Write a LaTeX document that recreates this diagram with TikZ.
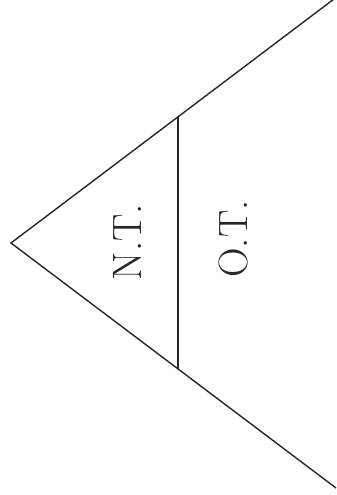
\documentclass[tikz,border=0pt]{standalone}
\begin{document}
\begin{tikzpicture}[x=1pt,y=-1pt,
  edge/.style={line width=1.4pt,draw=black!85},
  lbl/.style={rotate=90,inner sep=0pt,font=\fontsize{41}{48}\selectfont,text=black!85}]
\useasboundingbox (0,0) rectangle (337,495);
\coordinate (apex) at (11,243);
\coordinate (tr) at (334,-1);
\coordinate (br) at (336,488);
\coordinate (vt) at (178,117);
\coordinate (vb) at (178,369);
\draw[edge] (tr) -- (apex) -- (br);
\draw[edge] (vt) -- (vb);
\node[lbl] (nt) at (127,242) {N.T.};
\node[lbl] (ot) at (233,239) {O.T.};
\end{tikzpicture}
\end{document}
